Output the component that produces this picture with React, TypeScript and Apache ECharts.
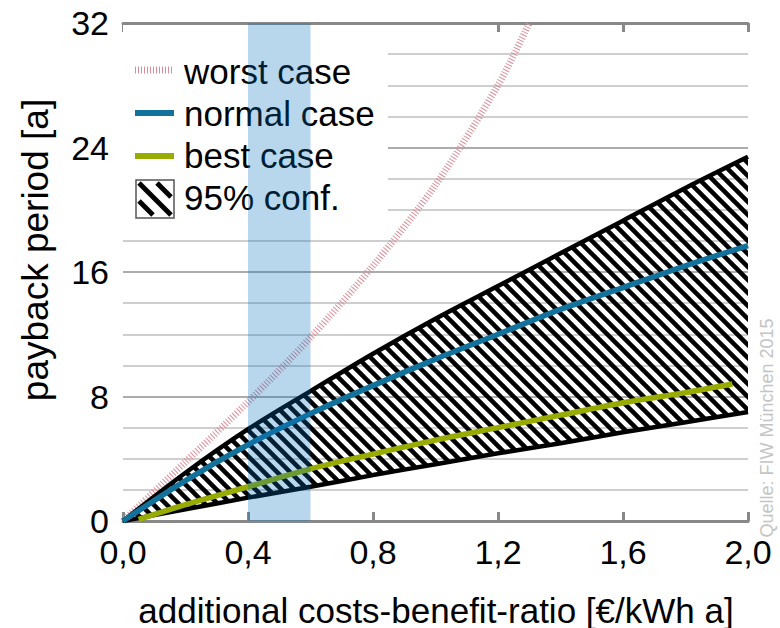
import React, { useEffect, useRef } from "react";
import * as echarts from "echarts";

// x positions (cost-benefit ratio, €/kWh a)
const ratioSteps = [0, 0.2, 0.4, 0.6, 0.8, 1.0, 1.2, 1.4, 1.6, 1.8, 2.0];

// payback period [a]
const normalCase = [0, 2.6, 4.9, 6.9, 8.7, 10.4, 12.0, 13.6, 15.0, 16.4, 17.7];
const confUpper = [0, 3.1, 5.9, 8.35, 10.75, 13.0, 15.1, 17.2, 19.3, 21.4, 23.4];
const confLower = [0, 0.75, 1.5, 2.2, 2.95, 3.65, 4.35, 5.0, 5.7, 6.35, 7.0];

const bestRatio = [0.05, 0.2, 0.4, 0.6, 0.8, 1.0, 1.2, 1.4, 1.6, 1.8, 1.95];
const bestCase = [0.1, 1.05, 2.2, 3.35, 4.3, 5.2, 6.0, 6.8, 7.6, 8.25, 8.8];

const worstRatio = [0, 0.2, 0.4, 0.6, 0.8, 1.0, 1.2, 1.3];
const worstCase = [0, 3.8, 7.65, 11.8, 16.4, 21.6, 28.0, 32];

// highlighted ratio range
const bandRange = [0.4, 0.6];

const yTicks = [0, 8, 16, 24, 32];
const legendLabels = ["worst case", "normal case", "best case", "95% conf."];

const FONT = "'Liberation Sans', Arial, sans-serif";
const BLUE = "#12729b";
const GREEN = "#97ab00";
const PINK = "#dc8d99";

function hatchTile(): HTMLCanvasElement {
  const s = 13;
  const c = document.createElement("canvas");
  c.width = s;
  c.height = s;
  const ctx = c.getContext("2d")!;
  ctx.strokeStyle = "#000";
  ctx.lineWidth = 4.5;
  for (let k = -2; k <= 2; k++) {
    ctx.beginPath();
    ctx.moveTo(-s, -s + k * s);
    ctx.lineTo(2 * s, 2 * s + k * s);
    ctx.stroke();
  }
  return c;
}

const zip = (xs: number[], ys: number[]) => xs.map((x, i) => [x, ys[i]]);

export default function App() {
  const ref = useRef<HTMLDivElement>(null);

  useEffect(() => {
    if (!ref.current) return;
    const chart = echarts.init(ref.current, null, { renderer: "svg" });
    const pattern = { image: hatchTile(), repeat: "repeat" };

    const lx = 135;
    const iconY = [70, 113, 156, 199];
    const textY = [71, 113, 155, 197];
    const yMin = yTicks[0];
    const yMax = yTicks[yTicks.length - 1];

    chart.setOption({
      animation: false,
      backgroundColor: "#fff",
      textStyle: { fontFamily: FONT },
      grid: { left: 123, right: 32, top: 23, bottom: 107, containLabel: false },
      xAxis: [
        {
          type: "value",
          min: 0,
          max: 2,
          interval: 0.4,
          position: "bottom",
          axisLine: { show: true, lineStyle: { color: "#888", width: 3 } },
          axisTick: { show: true, inside: true, length: 9, lineStyle: { color: "#888", width: 3 } },
          axisLabel: {
            fontSize: 34,
            color: "#000",
            fontFamily: FONT,
            margin: 14,
            formatter: (v: number) => v.toFixed(1).replace(".", ","),
          },
          splitLine: { show: false },
        },
        {
          type: "value",
          min: 0,
          max: 2,
          interval: 0.4,
          position: "top",
          axisLine: { show: true, lineStyle: { color: "#888", width: 3 } },
          axisTick: { show: true, inside: true, length: 9, lineStyle: { color: "#888", width: 3 } },
          axisLabel: { show: false },
          splitLine: { show: false },
        },
      ],
      yAxis: {
        type: "value",
        min: yMin,
        max: yMax,
        interval: 8,
        axisLine: { show: false },
        axisTick: { show: false },
        axisLabel: { fontSize: 34, color: "#000", fontFamily: FONT, margin: 14 },
        splitLine: { show: true, lineStyle: { color: "#909090", width: 1.5 } },
        minorTick: { show: false, splitNumber: 4 },
        minorSplitLine: { show: true, lineStyle: { color: "#cfcfcf", width: 2 } },
      },
      series: [
        {
          name: legendLabels[0],
          type: "line",
          data: zip(worstRatio, worstCase),
          smooth: 0.3,
          showSymbol: false,
          lineStyle: { color: PINK, width: 7, type: [1, 2] },
        },
        {
          // hatched 95% confidence region between the two bounds
          name: legendLabels[3],
          type: "custom",
          clip: true,
          data: zip(ratioSteps, confUpper),
          encode: { x: 0, y: 1 },
          renderItem: (params: any, api: any) => {
            if (params.dataIndex !== 0) return null;
            const top = ratioSteps.map((x, i) => api.coord([x, confUpper[i]]));
            const bottom = ratioSteps
              .map((x, i) => api.coord([x, confLower[i]]))
              .reverse();
            return {
              type: "polygon",
              shape: { points: top.concat(bottom) },
              style: { fill: pattern, stroke: null },
            };
          },
        },
        {
          name: "conf-upper",
          type: "line",
          data: zip(ratioSteps, confUpper),
          smooth: 0.3,
          showSymbol: false,
          lineStyle: { color: "#000", width: 4.5 },
        },
        {
          name: "conf-lower",
          type: "line",
          data: zip(ratioSteps, confLower),
          smooth: 0.3,
          showSymbol: false,
          lineStyle: { color: "#000", width: 4.5 },
        },
        {
          name: legendLabels[1],
          type: "line",
          data: zip(ratioSteps, normalCase),
          smooth: 0.3,
          showSymbol: false,
          lineStyle: { color: BLUE, width: 5.5 },
        },
        {
          name: legendLabels[2],
          type: "line",
          data: zip(bestRatio, bestCase),
          smooth: 0.3,
          showSymbol: false,
          lineStyle: { color: GREEN, width: 5.5 },
        },
        {
          // translucent highlight over the full plot height
          name: "band",
          type: "custom",
          z: 10,
          clip: false,
          data: [bandRange],
          encode: { x: [0, 1] },
          renderItem: (params: any, api: any) => {
            const p0 = api.coord([api.value(0), yMax]);
            const p1 = api.coord([api.value(1), yMin]);
            return {
              type: "rect",
              shape: { x: p0[0], y: p0[1], width: p1[0] - p0[0], height: p1[1] - p0[1] },
              style: { fill: "rgba(0,112,192,0.28)", stroke: null },
            };
          },
        },
      ],
      graphic: [
        // legend box
        { type: "rect", z: 5, shape: { x: 123, y: 25, width: 265, height: 205 }, style: { fill: "#fff" } },
        {
          type: "line",
          z: 6,
          shape: { x1: lx, y1: iconY[0], x2: lx + 39, y2: iconY[0] },
          style: { stroke: PINK, lineWidth: 7, lineDash: [1, 2] },
        },
        {
          type: "line",
          z: 6,
          shape: { x1: lx, y1: iconY[1], x2: lx + 39, y2: iconY[1] },
          style: { stroke: BLUE, lineWidth: 6 },
        },
        {
          type: "line",
          z: 6,
          shape: { x1: lx, y1: iconY[2], x2: lx + 39, y2: iconY[2] },
          style: { stroke: GREEN, lineWidth: 6 },
        },
        {
          type: "rect",
          z: 6,
          shape: { x: 136, y: 180, width: 38, height: 38 },
          style: { fill: "#fff", stroke: "#555", lineWidth: 1.5 },
        },
        {
          type: "line",
          z: 7,
          shape: { x1: 139, y1: 183, x2: 171, y2: 215 },
          style: { stroke: "#000", lineWidth: 5 },
        },
        {
          type: "line",
          z: 7,
          shape: { x1: 157, y1: 183, x2: 171, y2: 197 },
          style: { stroke: "#000", lineWidth: 5 },
        },
        {
          type: "line",
          z: 7,
          shape: { x1: 139, y1: 201, x2: 153, y2: 215 },
          style: { stroke: "#000", lineWidth: 5 },
        },
        ...legendLabels.map((t, i) => ({
          type: "text",
          z: 6,
          x: 184,
          y: textY[i],
          style: {
            text: t,
            fontSize: 35,
            fontFamily: FONT,
            fill: "#000",
            verticalAlign: "middle",
          },
        })),
        // axis titles
        {
          type: "text",
          x: 436,
          y: 610,
          style: {
            text: "additional costs-benefit-ratio [€/kWh a]",
            fontSize: 35,
            fontFamily: FONT,
            fill: "#000",
            align: "center",
            verticalAlign: "middle",
          },
        },
        {
          type: "text",
          x: 35,
          y: 250,
          rotation: Math.PI / 2,
          style: {
            text: "payback period [a]",
            fontSize: 37,
            fontFamily: FONT,
            fill: "#000",
            align: "center",
            verticalAlign: "middle",
          },
        },
        {
          type: "text",
          x: 767,
          y: 428,
          rotation: Math.PI / 2,
          style: {
            text: "Quelle: FIW München 2015",
            fontSize: 18,
            fontFamily: FONT,
            fill: "#c4c4c4",
            align: "center",
            verticalAlign: "middle",
          },
        },
      ],
    });

    return () => chart.dispose();
  }, []);

  return <div ref={ref} style={{ width: 780, height: 628, position: "absolute", left: 0, top: 0 }} />;
}
